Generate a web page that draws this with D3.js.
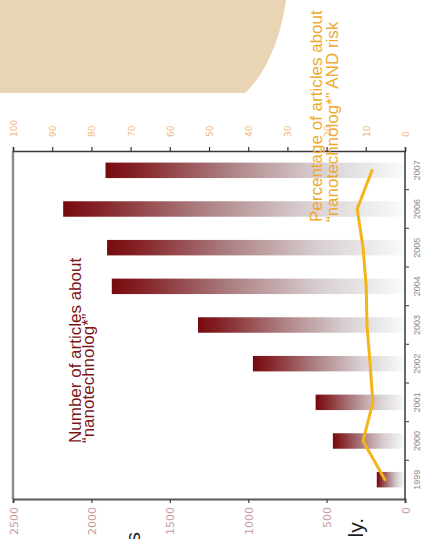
<!DOCTYPE html>
<html>
<head>
<meta charset="utf-8">
<script src="https://cdn.jsdelivr.net/npm/d3@7"></script>
<style>
  html, body { margin: 0; padding: 0; background: #ffffff; }
  svg { display: block; }
</style>
</head>
<body>
<svg id="chart" width="425" height="539"></svg>
<script>
// Articles mentioning "nanotechnolog*" per year, and share of them also about risk
const years = ["1999", "2000", "2001", "2002", "2003", "2004", "2005", "2006", "2007"];
const articleCounts = [180, 460, 570, 970, 1320, 1870, 1900, 2180, 1910];
const riskShare = [5.1, 10.7, 8.2, 8.9, 9.7, 9.9, 10.7, 12.2, 8.4];
const countTicks = [0, 500, 1000, 1500, 2000, 2500];
const shareTicks = [0, 10, 20, 30, 40, 50, 60, 70, 80, 90, 100];

const svg = d3.select("#chart");

// Page decoration in the upper-left corner
svg.append("path")
  .attr("d", "M0,0 H286 C282,32 268,72 245,93 H0 Z")
  .attr("fill", "#e9d4b3");

// The chart is laid out turned a quarter-turn: values run right-to-left, years bottom-to-top
const plot = { left: 13, right: 405, top: 151, bottom: 499 };

const xCount = d3.scaleLinear().domain([0, 2500]).range([plot.right, plot.left]);
const xShare = d3.scaleLinear().domain([0, 100]).range([plot.right, plot.left]);
const yYear = d3.scaleBand().domain(years)
  .range([plot.bottom, plot.top])
  .paddingInner(0.6).paddingOuter(0.3);

// Bar fill: deep red at the value end fading out toward the baseline
const defs = svg.append("defs");
const grad = defs.append("linearGradient")
  .attr("id", "barFade")
  .attr("x1", "0").attr("y1", "0").attr("x2", "1").attr("y2", "0");
[
  [0, "#760a0e"], [0.12, "#86272b"], [0.42, "#ae8386"],
  [0.7, "#d7cdcf"], [0.9, "#ececec"], [1, "#fbfbfb"]
].forEach(([o, c]) => grad.append("stop").attr("offset", o).attr("stop-color", c));

// Frame: left edge light grey, right edge dark
svg.append("line")
  .attr("x1", plot.left).attr("x2", plot.left)
  .attr("y1", plot.top).attr("y2", plot.bottom)
  .attr("stroke", "#8c8c8c").attr("stroke-width", 2.5);

// Bars
svg.append("g").selectAll("rect")
  .data(years)
  .join("rect")
  .attr("x", (d, i) => xCount(articleCounts[i]))
  .attr("y", d => yYear(d))
  .attr("width", (d, i) => xCount(0) - xCount(articleCounts[i]))
  .attr("height", yYear.bandwidth())
  .attr("fill", "url(#barFade)");

// Count axis (bottom edge)
const countAxis = d3.axisBottom(xCount).tickValues(countTicks).tickSize(4).tickFormat(d3.format("d"));
const gCount = svg.append("g")
  .attr("transform", `translate(0,${plot.bottom})`)
  .call(countAxis);
gCount.select(".domain").attr("stroke", "#5a5a5a").attr("stroke-width", 2);
gCount.selectAll(".tick line").attr("stroke", "#444").attr("stroke-width", 1.2);
gCount.selectAll(".tick text")
  .attr("transform", "translate(4,8) rotate(-90)")
  .attr("x", 0).attr("y", 0).attr("dy", 0)
  .attr("text-anchor", "end")
  .attr("font-family", "DejaVu Sans")
  .attr("font-size", 11)
  .attr("fill", "#c99ba0");

// Share axis (top edge)
const shareAxis = d3.axisTop(xShare).tickValues(shareTicks).tickSize(4).tickFormat(d3.format("d"));
const gShare = svg.append("g")
  .attr("transform", `translate(0,${plot.top})`)
  .call(shareAxis);
gShare.select(".domain").attr("stroke", "#3a3a3a").attr("stroke-width", 1.5);
gShare.selectAll(".tick line").attr("stroke", "#333").attr("stroke-width", 1.2);
gShare.selectAll(".tick text")
  .attr("transform", "translate(3.5,-14) rotate(-90)")
  .attr("x", 0).attr("y", 0).attr("dy", 0)
  .attr("text-anchor", "start")
  .attr("font-family", "DejaVu Sans")
  .attr("font-size", 9)
  .attr("fill", "#f2b67c");

// Year axis (right edge): labels centred on bars, ticks between them
const gYear = svg.append("g").attr("transform", `translate(${plot.right},0)`);
gYear.append("line")
  .attr("y1", plot.top).attr("y2", plot.bottom)
  .attr("stroke", "#3a3a3a").attr("stroke-width", 1.5);
gYear.selectAll("line.yt")
  .data(years.slice(1))
  .join("line")
  .attr("class", "yt")
  .attr("x1", 0).attr("x2", 4)
  .attr("y1", d => yYear(d) + yYear.bandwidth() / 2 + yYear.step() / 2)
  .attr("y2", d => yYear(d) + yYear.bandwidth() / 2 + yYear.step() / 2)
  .attr("stroke", "#555").attr("stroke-width", 1.2);
gYear.selectAll("text")
  .data(years)
  .join("text")
  .attr("transform", d => `translate(15,${yYear(d) + yYear.bandwidth() / 2}) rotate(-90)`)
  .attr("text-anchor", "middle")
  .attr("font-family", "Liberation Sans, Arial, sans-serif")
  .attr("font-size", 9)
  .attr("fill", "#8a8a8a")
  .text(d => d);

// Share line
const line = d3.line()
  .x((d, i) => xShare(riskShare[i]))
  .y(d => yYear(d) + yYear.bandwidth() / 2);
svg.append("path")
  .attr("d", line(years))
  .attr("fill", "none")
  .attr("stroke", "#f4b41a")
  .attr("stroke-width", 3)
  .attr("stroke-linejoin", "round")
  .attr("stroke-linecap", "round");

// Series captions, set sideways like the axes
function caption(lines, x0, y0, gap, color, size) {
  const t = svg.append("text")
    .attr("transform", `translate(${x0},${y0}) rotate(-90)`)
    .attr("font-family", "Liberation Sans, Arial, sans-serif")
    .attr("font-size", size)
    .attr("fill", color);
  lines.forEach((s, i) => t.append("tspan").attr("x", 0).attr("y", i * gap).text(s));
}
caption(["Number of articles about", "\u201Cnanotechnolog*\u201D"], 81, 443, 12.5, "#7b1517", 17);
caption(["Percentage of articles about", "\u201Cnanotechnolog*\u201D AND risk"], 322, 222, 16, "#efa92f", 17);

// Fragments of the surrounding page text
const frag = svg.append("g")
  .attr("font-family", "Liberation Sans, Arial, sans-serif")
  .attr("font-size", 21)
  .attr("fill", "#1e1e1e")
  .attr("text-anchor", "end");
frag.append("text").attr("transform", "translate(363,518) rotate(-90)").text("ly.");
frag.append("text").attr("transform", "translate(140,532) rotate(-90)").text("s");
</script>
</body>
</html>
